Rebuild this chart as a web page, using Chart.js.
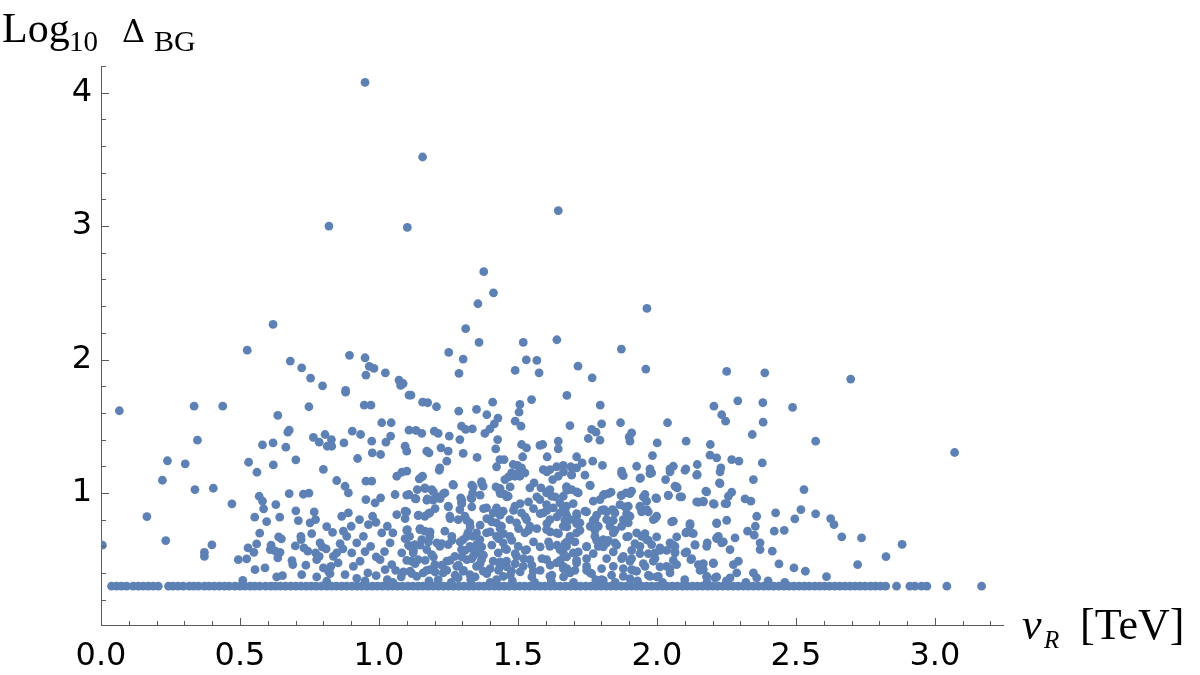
<!DOCTYPE html>
<html>
<head>
<meta charset="utf-8">
<script src="https://cdn.jsdelivr.net/npm/chart.js@4.4.1/dist/chart.umd.min.js"></script>
<style>
html,body{margin:0;padding:0;background:#fff;}
#wrap{position:relative;width:1200px;height:675px;}
</style>
</head>
<body>
<div id="wrap"><canvas id="c" width="1200" height="675"></canvas></div>
<script>
// ---- tick labels ----
const xTickValues = [0, 0.5, 1.0, 1.5, 2.0, 2.5, 3.0];
const yTickValues = [1, 2, 3, 4];

// ---- baseline points (log10 ΔBG at its floor) ----
const baselineLevel = 0.301;
const baselineVR = [0.038,0.056,0.074,0.092,0.116,0.134,0.152,0.17,0.188,0.206,
0.243,0.259,0.277,0.296,0.318,0.334,0.351,0.372,0.389,0.407,0.426,0.444,0.461,0.482,0.5,0.517,0.536,0.553,0.571,0.592,
0.611,0.628,0.645,0.664,0.683,0.701,0.719,0.738,0.756,0.774,0.793,0.812,0.829,0.847,0.866,0.884,0.903,0.921,0.938,0.957,
0.976,0.994,1.012,1.031,1.049,1.067,1.085,1.104,1.122,1.141,1.158,1.177,1.195,1.213,1.232,1.25,1.268,1.287,1.305,1.323,
1.341,1.36,1.378,1.396,1.415,1.433,1.451,1.469,1.488,1.506,1.524,1.543,1.561,1.579,1.597,1.616,1.634,1.652,1.671,1.689,
1.707,1.725,1.744,1.762,1.78,1.799,1.817,1.835,1.853,1.872,1.89,1.908,1.927,1.945,1.963,1.981,2.0,2.018,2.036,2.055,
2.073,2.091,2.109,2.128,2.146,2.164,2.183,2.201,2.219,2.237,2.256,2.274,2.292,2.311,2.329,2.347,2.365,2.384,2.402,2.42,
2.439,2.457,2.475,2.493,2.512,2.53,2.548,2.567,2.585,2.603,2.621,2.64,2.658,2.676,2.695,2.713,2.731,2.749,2.768,2.786,
2.804,2.823,2.862,2.91,2.928,2.952,2.971,3.043,3.168];

// ---- upper sparse points ----
const upperVR = [0.950,1.157,0.820,1.102,1.377,1.412,1.356,0.619,1.312,1.360,1.519,0.526,1.251,0.894,0.950,1.303,0.681,1.530,1.568,0.722,0.965,0.982,1.023,0.953,1.288,1.490,1.576,0.754,1.072,1.087,1.078,0.797,0.880,
1.645,1.964,1.640,1.872,1.716,1.767,1.960,2.251,2.388,2.697];
const upperLogD = [4.077,3.518,3.0,2.99,2.658,2.50,2.418,2.263,2.231,2.128,2.128,2.07,2.053,2.031,2.013,2.003,1.988,1.998,1.993,1.938,1.948,1.933,1.90,1.883,1.896,1.918,1.90,1.861,1.846,1.82,1.806,1.803,1.768,
3.116,2.383,2.148,2.078,1.95,1.863,1.928,1.911,1.90,1.853];

// ---- left region (vR < 0.85) ----
const leftVR = [0.066,0.335,0.438,0.748,0.636,0.347,0.677,0.672,0.764,0.806,0.785,0.829,0.814,0.830,0.581,0.619,0.665,0.239,0.303,0.531,
0.620,0.701,0.800,0.561,0.848,0.221,0.338,0.404,0.569,0.677,0.728,0.748,0.581,0.471,0.629,0.585,0.701,0.767,0.553,0.643,
0.165,0.596,0.71,0.752,0.772,0.812,0.758,0.833,0.571,0.639,0.649,0.719,0.72,0.233,0.005,0.56,0.399,0.529,0.612,0.609,
0.626,0.644,0.699,0.73,0.744,0.788,0.796,0.81,0.772,0.785,0.776,0.836,0.55,0.372,0.372,0.494,0.524,0.636,0.687,0.69,
0.554,0.59,0.737,0.80,0.818,0.827,0.824,0.632,0.653,0.722,0.776,0.51,0.812];
const leftLogD = [1.616,1.65,1.65,1.646,1.581,1.395,1.47,1.455,1.416,1.438,1.38,1.40,1.35,1.35,1.36,1.375,1.343,1.241,1.218,1.23,
1.21,1.248,1.176,1.155,1.093,1.095,1.025,1.035,0.975,0.995,0.99,0.998,0.938,0.918,0.913,0.881,0.866,0.858,0.818,0.818,
0.823,0.785,0.793,0.776,0.80,0.748,0.695,0.705,0.698,0.671,0.656,0.675,0.65,0.643,0.608,0.618,0.611,0.588,0.608,0.575,
0.566,0.555,0.603,0.588,0.563,0.626,0.596,0.581,0.551,0.525,0.50,0.525,0.555,0.555,0.525,0.50,0.505,0.513,0.493,0.463,
0.425,0.438,0.458,0.438,0.413,0.45,0.395,0.37,0.38,0.388,0.37,0.345,0.338];

// ---- central region, upper part ----
const centerHiVR = [0.88,1.108,1.115,0.947,0.971,1.157,1.175,1.207,1.409,1.287,1.351,1.388,1.428,1.415,1.507,1.504,1.549,1.49,1.511,1.676,
1.687,1.01,1.044,0.904,0.934,1.108,1.133,1.154,1.199,1.213,1.253,1.297,1.312,1.336,1.381,1.399,0.874,0.974,1.025,1.042,
1.094,1.10,1.172,1.18,1.223,1.249,1.244,1.291,1.303,1.353,1.42,1.427,1.435,1.45,1.423,1.513,1.531,1.517,1.498,1.483,
1.579,1.589,1.605,1.645,1.645,1.711,0.923,0.976,1.006,0.953,0.974,0.878,0.89,1.064,1.082,1.10,1.145,1.157,1.138,1.165,
1.058,1.108,1.133,1.19,1.174,1.195,1.213,1.237,1.266,1.219,1.217,1.294,1.297,1.339,1.337,1.331,1.369,1.375,1.421,1.435,
1.453,1.465,1.453,1.471,1.477,1.489,1.501,1.513,1.507,1.525,1.543,1.558,1.583,1.603,1.615,1.621,1.591,1.615,1.639,1.663,
1.69,1.711,1.625,1.645,1.675,1.693,1.693,1.717,1.663,1.651];
const centerHiLogD = [1.755,1.733,1.733,1.658,1.658,1.68,1.676,1.646,1.68,1.613,1.626,1.586,1.561,1.518,1.663,1.605,1.70,1.538,1.50,1.731,
1.505,1.526,1.526,1.463,1.438,1.47,1.468,1.446,1.463,1.446,1.426,1.50,1.476,1.48,1.446,1.48,1.375,1.388,1.38,1.426,
1.35,1.313,1.313,1.30,1.338,1.313,1.238,1.40,1.296,1.266,1.33,1.40,1.25,1.25,1.196,1.363,1.338,1.271,1.206,1.213,
1.356,1.363,1.271,1.388,1.33,1.271,1.258,1.30,1.288,1.088,1.088,1.05,1.0,1.125,1.155,1.163,1.106,1.125,1.025,1.038,
0.988,0.988,0.956,1.025,0.956,0.946,0.971,1.0,1.063,1.188,1.17,0.963,0.926,1.045,1.0,0.963,1.085,1.05,1.045,1.013,
0.988,0.975,1.10,1.125,1.15,1.125,1.15,1.188,1.125,1.15,1.038,1.075,1.038,1.0,1.025,0.975,1.175,1.175,1.196,1.206,
1.196,1.188,1.10,1.125,1.045,1.138,1.025,1.0,0.975,0.926];

// ---- central region, lower part ----
const centerLoVR = [0.866,0.89,0.872,0.884,0.953,0.986,1.006,0.977,0.989,0.962,0.944,0.92,0.902,0.932,0.908,0.848,0.853,0.878,1.01,1.04,
1.004,1.022,1.046,1.064,1.094,1.102,1.11,1.082,1.112,1.129,1.123,1.117,1.141,1.112,1.136,1.159,1.141,1.165,1.183,1.147,
1.165,1.183,1.154,1.172,1.19,1.208,1.219,1.201,1.183,1.231,1.213,1.249,1.255,1.237,1.262,1.249,1.273,1.244,1.28,1.291,
1.285,1.309,1.327,1.32,1.303,1.297,1.327,1.351,1.316,1.339,1.357,1.316,1.339,1.363,1.351,1.369,1.351,1.375,1.327,1.303,
1.285,1.387,1.411,1.423,1.447,1.399,1.423,1.441,1.471,1.387,1.423,1.447,1.471,1.459,1.429,1.411,1.435,1.459,1.477,1.447,
1.423,1.489,1.513,1.495,1.531,1.543,1.525,1.501,1.531,1.495,1.543,1.519,1.555,1.579,1.603,1.591,1.627,1.615,1.651,1.675,
1.687,1.711,1.603,1.639,1.663,1.687,1.711,1.615,1.651,1.675,1.699,1.603,1.639,1.663,1.687,1.615,1.711,
0.86,0.87,0.90,0.93,0.95,0.97,0.99,1.02,1.03,1.05,0.96,0.99,1.06,1.08,0.92,1.03];
const centerLoLogD = [0.825,0.85,0.713,0.675,0.95,0.926,0.963,0.825,0.78,0.763,0.675,0.626,0.551,0.488,0.45,0.551,0.475,0.388,0.70,0.626,
0.50,0.425,0.463,0.838,0.863,0.725,0.675,0.551,0.60,0.613,0.551,0.488,0.50,0.413,0.375,0.40,0.83,0.825,0.85,0.725,
0.713,0.675,0.65,0.575,0.538,0.626,0.60,0.463,0.425,0.40,0.35,0.90,0.825,0.713,0.675,0.613,0.525,0.488,0.45,0.875,
0.80,0.825,0.776,0.70,0.65,0.575,0.60,0.613,0.50,0.525,0.551,0.675,0.675,0.65,0.70,0.50,0.45,0.413,0.388,0.413,
0.363,0.888,0.85,0.888,0.863,0.80,0.776,0.75,0.80,0.70,0.675,0.626,0.675,0.575,0.551,0.488,0.45,0.488,0.413,0.375,
0.35,0.90,0.85,0.776,0.80,0.75,0.70,0.60,0.575,0.525,0.50,0.45,0.413,0.95,0.913,0.85,0.888,0.80,0.85,0.90,
0.80,0.825,0.725,0.70,0.75,0.675,0.70,0.60,0.575,0.60,0.551,0.50,0.475,0.45,0.40,0.375,0.475,
0.62,0.58,0.75,0.80,0.56,0.60,0.52,0.56,0.75,0.70,0.40,0.38,0.42,0.37,0.36,0.35];

// ---- dense core, 1.08 < vR < 1.68 ----
const coreVR = [1.154,1.268,1.334,1.37,1.466,1.502,1.472,1.436,1.604,1.664,
1.10,1.13,1.166,1.172,1.196,1.232,1.22,1.298,1.334,1.364,1.436,1.46,1.538,1.568,1.604,1.634,1.676,
1.10,1.094,1.142,1.178,1.202,1.25,1.256,1.298,1.334,1.376,1.418,1.388,1.436,1.484,1.508,1.526,1.556,1.58,1.604,1.64,1.67,
1.10,1.148,1.184,1.094,1.316,1.328,1.364,1.406,1.40,1.436,1.448,1.502,1.538,1.568,1.604,1.616,1.646,1.676,
1.106,1.124,1.148,1.178,1.226,1.262,1.292,1.31,1.298,1.334,1.37,1.376,1.406,1.43,1.454,1.478,1.49,1.526,1.556,1.58,1.61,1.64,1.664,1.676,
1.10,1.13,1.166,1.196,1.226,1.256,1.286,1.334,1.364,1.40,1.436,1.46,1.49,1.52,1.55,1.586,1.616,1.652,1.676,
1.088,1.118,1.172,1.202,1.244,1.274,1.304,1.346,1.388,1.43,1.472,1.508,1.55,1.58,1.622,1.664];
const coreLogD = [1.12,1.058,1.058,1.07,1.12,1.133,1.045,1.033,1.158,1.158,
0.983,0.958,1.033,0.945,1.008,0.995,0.958,0.945,0.958,0.983,0.995,0.97,0.933,0.97,1.008,0.97,1.02,
0.858,0.808,0.833,0.845,0.883,0.895,0.808,0.92,0.895,0.883,0.858,0.808,0.833,0.87,0.92,0.82,0.883,0.845,0.87,0.82,0.858,
0.72,0.733,0.708,0.658,0.795,0.745,0.758,0.783,0.708,0.733,0.695,0.733,0.72,0.733,0.77,0.708,0.695,0.745,
0.608,0.57,0.608,0.633,0.62,0.645,0.633,0.57,0.52,0.583,0.595,0.533,0.608,0.658,0.583,0.645,0.545,0.57,0.633,0.595,0.633,0.608,0.545,0.633,
0.495,0.47,0.495,0.52,0.458,0.495,0.458,0.508,0.47,0.433,0.483,0.445,0.47,0.508,0.458,0.508,0.458,0.495,0.433,
0.408,0.395,0.42,0.408,0.42,0.383,0.42,0.37,0.395,0.42,0.383,0.408,0.37,0.42,0.383,0.37];

// ---- dense band, 1.66 < vR < 2.26 ----
const bandVR = [1.693,1.741,1.873,1.939,1.975,2.047,2.101,2.143,2.227,2.227,
1.675,1.711,1.759,1.807,1.825,1.873,1.903,1.951,1.999,2.041,2.071,2.083,2.143,2.167,2.179,2.203,2.251,
1.663,1.699,1.675,1.711,1.669,1.711,1.747,1.783,1.801,1.819,1.843,1.885,1.891,1.939,1.945,1.969,1.993,1.843,1.771,1.777,1.723,1.849,2.053,2.119,2.107,2.131,2.215,2.251,
1.669,1.705,1.717,1.747,1.783,1.807,1.825,1.855,1.891,1.921,1.957,1.969,1.999,2.011,2.035,2.059,2.071,2.065,2.107,2.137,2.215,2.239,
1.675,1.711,1.747,1.771,1.819,1.843,1.873,1.909,1.909,1.939,1.969,1.951,1.993,2.011,2.047,2.059,2.125,2.167,2.203,
1.663,1.705,1.747,1.765,1.801,1.837,1.879,1.915,1.969,1.999,1.807,1.903,2.155,2.179,2.215];
const bandLogD = [1.133,1.133,1.145,1.108,1.145,1.158,1.17,1.133,1.158,1.07,
1.045,1.008,1.058,0.983,0.995,0.983,0.995,0.97,0.958,0.983,1.045,0.97,0.933,0.933,1.008,0.92,0.92,
0.895,0.92,0.833,0.845,0.795,0.77,0.858,0.833,0.87,0.858,0.87,0.895,0.845,0.895,0.858,0.858,0.808,0.795,0.795,0.72,0.72,0.72,0.783,0.758,0.708,0.695,0.77,0.795,
0.62,0.633,0.558,0.595,0.645,0.595,0.645,0.608,0.67,0.62,0.695,0.645,0.67,0.57,0.57,0.608,0.67,0.558,0.558,0.608,0.658,0.633,
0.52,0.495,0.508,0.545,0.508,0.558,0.508,0.57,0.508,0.545,0.545,0.47,0.508,0.445,0.433,0.495,0.508,0.47,0.47,
0.433,0.42,0.42,0.395,0.433,0.383,0.433,0.42,0.383,0.37,0.345,0.358,0.42,0.37,0.37];

// ---- right region (vR > 1.72) ----
const rightVR = [1.796,2.205,2.291,2.381,2.488,2.233,2.247,2.382,1.801,1.869,2.038,1.765,1.781,1.753,1.795,1.909,1.90,1.903,2.001,2.105,
2.192,2.191,2.215,2.343,2.571,1.984,1.731,1.769,1.804,1.873,1.879,1.927,1.941,1.975,1.981,2.047,2.059,2.031,2.104,2.145,
2.145,2.269,2.295,2.23,2.379,2.347,2.225,1.76,2.065,2.073,2.089,2.041,2.176,2.269,2.257,2.317,2.338,2.529,2.149,2.167,
2.206,2.245,1.81,1.835,1.871,1.889,1.909,1.957,1.963,1.939,1.996,1.771,1.795,1.81,1.84,1.849,1.867,1.897,1.903,1.879,
1.945,1.963,1.999,1.987,1.741,1.723,1.76,1.777,1.789,1.819,1.831,1.843,1.777,1.807,1.747,1.789,1.819,1.849,1.873,1.897,
1.897,1.927,1.945,1.963,1.939,1.981,1.993,2.011,2.047,2.065,2.059,2.119,2.124,2.104,2.137,2.101,2.122,2.181,2.215,2.233,
2.263,2.281,2.293,2.371,2.371,2.415,2.439,2.493,2.534,2.422,2.458,2.326,2.35,2.359,2.354,2.427,2.518,2.496,2.571,2.215,
2.221,2.179,2.149,2.167,2.203,2.179,2.209,2.275,2.287,2.263,2.347,2.359,1.747,1.76,1.801,1.843,1.879,1.903,1.909,1.879,
1.927,1.957,1.975,2.005,1.987,2.035,2.071,2.047,2.065,
3.071,2.625,2.637,2.665,2.736,2.882,2.824,2.722,2.61];
const rightLogD = [1.658,1.65,1.69,1.676,1.641,1.586,1.538,1.53,1.518,1.526,1.526,1.476,1.455,1.408,1.395,1.45,1.42,1.388,1.375,1.388,
1.363,1.283,1.263,1.438,1.388,1.28,1.225,1.238,1.206,1.163,1.13,1.20,1.113,1.18,1.15,1.18,1.20,1.10,1.18,1.213,
1.138,1.25,1.238,1.188,1.225,1.10,1.075,1.055,1.05,1.038,0.971,0.98,1.013,1.005,0.975,0.956,0.938,1.025,0.93,0.938,
0.915,0.92,0.988,1.005,0.98,1.0,1.013,0.988,0.938,0.90,0.963,0.938,0.95,0.875,0.875,0.85,0.913,0.90,0.825,0.80,
0.875,0.875,0.825,0.80,0.863,0.776,0.75,0.80,0.75,0.80,0.75,0.70,0.675,0.65,0.60,0.60,0.626,0.626,0.75,0.776,
0.675,0.70,0.675,0.65,0.60,0.613,0.551,0.588,0.626,0.60,0.788,0.77,0.70,0.70,0.613,0.551,0.50,0.626,0.663,0.626,
0.575,0.663,0.488,0.626,0.575,0.563,0.468,0.438,0.413,0.713,0.72,0.713,0.683,0.825,0.75,0.85,0.875,0.806,0.843,0.776,
0.675,0.60,0.463,0.425,0.475,0.375,0.363,0.463,0.40,0.363,0.40,0.363,0.45,0.40,0.35,0.45,0.525,0.488,0.425,0.375,
0.413,0.45,0.375,0.375,0.488,0.45,0.463,0.40,0.551,
1.303,0.808,0.763,0.671,0.663,0.615,0.523,0.463,0.373];

// ---- points just above the floor ----
const nearFloorVR = [0.95,1.05,1.18,1.26,1.33,1.40,1.48,1.56,1.62,1.70,1.78,1.85,1.93,2.02,2.10,2.18,2.25,2.32,2.40,2.46];
const nearFloorLogD = [0.34,0.33,0.34,0.33,0.35,0.33,0.34,0.33,0.34,0.33,0.35,0.33,0.34,0.33,0.35,0.33,0.34,0.33,0.34,0.33];

// build dataset
function pts(xs, ys){ return xs.map((x,i)=>({x:x, y:ys[i]})); }
const allPoints = [].concat(
  baselineVR.map(x=>({x:x, y:baselineLevel})),
  pts(nearFloorVR, nearFloorLogD),
  pts(leftVR, leftLogD),
  pts(centerLoVR, centerLoLogD),
  pts(coreVR, coreLogD),
  pts(bandVR, bandLogD),
  pts(centerHiVR, centerHiLogD),
  pts(rightVR, rightLogD),
  pts(upperVR, upperLogD)
);

const AXIS = '#5a5a5a';
const X_MIN = 0, X_MAX = 3.245, Y_MIN = 0.01, Y_MAX = 4.2;

const inwardTicks = {
  id: 'inwardTicks',
  afterDraw(chart){
    const ctx = chart.ctx, xs = chart.scales.x, ys = chart.scales.y;
    const left = chart.chartArea.left, bottom = chart.chartArea.bottom;
    ctx.save();
    ctx.strokeStyle = AXIS; ctx.lineWidth = 1;
    for(let k=1;k<=21;k++){
      const v = k*0.2, py = Math.round(ys.getPixelForValue(v))+0.5;
      const major = (k%5===0);
      ctx.beginPath(); ctx.moveTo(left, py); ctx.lineTo(left + (major?8:5), py); ctx.stroke();
    }
    for(let k=0;k<=32;k++){
      const v = k*0.1, px = Math.round(xs.getPixelForValue(v))+0.5;
      const major = (k%5===0);
      ctx.beginPath(); ctx.moveTo(px, bottom); ctx.lineTo(px, bottom - (major?7:4)); ctx.stroke();
    }
    ctx.restore();
  }
};

const axisTitles = {
  id: 'axisTitles',
  afterDraw(chart){
    const ctx = chart.ctx;
    ctx.save();
    ctx.fillStyle = '#000';
    ctx.textBaseline = 'alphabetic';
    ctx.textAlign = 'left';
    // y title: Log10 ΔBG
    ctx.font = '42px "Liberation Serif"';
    ctx.fillText('Log', 2, 42);
    ctx.font = '29px "Liberation Serif"';
    ctx.fillText('10', 69, 51);
    ctx.font = '32px "DejaVu Serif"';
    ctx.fillText('Δ', 122, 42);
    ctx.font = '30px "Liberation Serif"';
    ctx.fillText('BG', 154, 51);
    // x title: vR [TeV]
    ctx.font = 'italic 44px "Liberation Serif"';
    ctx.fillText('v', 1022, 639);
    ctx.font = 'italic 25px "Liberation Serif"';
    ctx.fillText('R', 1044, 648);
    ctx.font = '44px "Liberation Serif"';
    ctx.fillText('[TeV]', 1080, 639);
    ctx.restore();
  }
};

new Chart(document.getElementById('c'), {
  type: 'scatter',
  data: { datasets: [{
    data: allPoints,
    backgroundColor: '#5E81B5',
    borderWidth: 0,
    pointRadius: 4.4,
    pointHoverRadius: 4.4
  }]},
  options: {
    responsive: false,
    animation: false,
    events: [],
    layout: { padding: { top: 66, right: 197, left: 0, bottom: 0 } },
    plugins: { legend: { display: false }, tooltip: { enabled: false }, title: { display: false } },
    scales: {
      x: {
        type: 'linear', min: X_MIN, max: X_MAX,
        grid: { display: false, drawTicks: false },
        border: { display: true, color: AXIS, width: 1 },
        afterBuildTicks: s => { s.ticks = xTickValues.map(v => ({ value: v })); },
        afterFit: s => { s.height = 50; },
        ticks: {
          color: '#000', padding: 12, maxRotation: 0, autoSkip: false,
          font: { family: '"DejaVu Sans"', size: 32 },
          callback: v => Number(v).toFixed(1)
        }
      },
      y: {
        type: 'linear', min: Y_MIN, max: Y_MAX,
        grid: { display: false, drawTicks: false },
        border: { display: true, color: AXIS, width: 1 },
        afterBuildTicks: s => { s.ticks = yTickValues.map(v => ({ value: v })); },
        afterFit: s => { s.width = 101; },
        ticks: {
          color: '#000', padding: 9, autoSkip: false,
          font: { family: '"DejaVu Sans"', size: 32 },
          callback: v => String(v)
        }
      }
    }
  },
  plugins: [inwardTicks, axisTitles]
});
</script>
</body>
</html>
